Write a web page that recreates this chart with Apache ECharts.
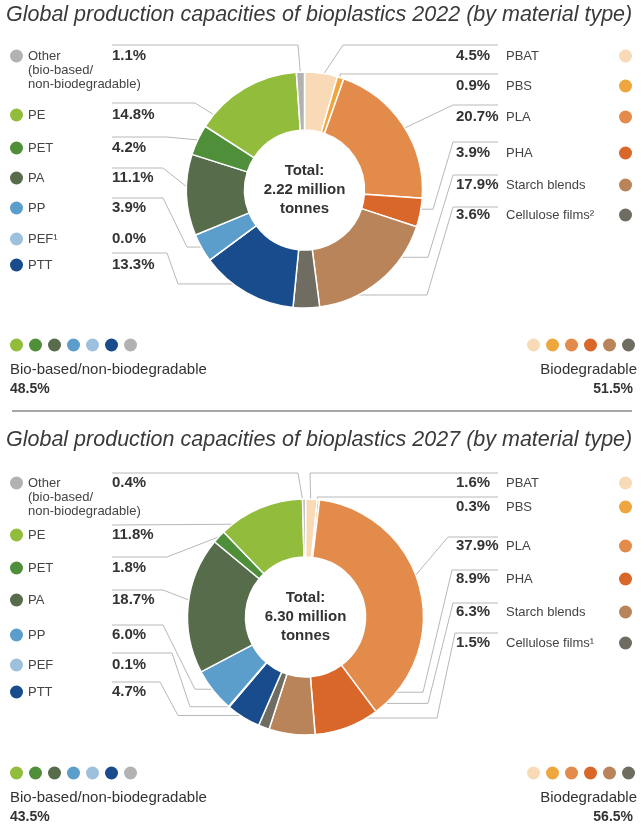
<!DOCTYPE html>
<html><head><meta charset="utf-8">
<script src="https://cdn.jsdelivr.net/npm/echarts@6/dist/echarts.min.js"></script>
<style>html,body{margin:0;padding:0;background:#fff}#c{width:644px;height:825px}</style>
</head><body><div id="c"></div>
<script>
// ---------- data ----------
const materials = ['PBAT','PBS','PLA','PHA','Starch blends','Cellulose films','PTT','PEF','PP','PA','PET','PE','Other'];
const labels2022 = ['PBAT','PBS','PLA','PHA','Starch blends','Cellulose films²','PTT','PEF¹','PP','PA','PET','PE','Other'];
const labels2027 = ['PBAT','PBS','PLA','PHA','Starch blends','Cellulose films¹','PTT','PEF','PP','PA','PET','PE','Other'];
const values2022 = [4.5,0.9,20.7,3.9,17.9,3.6,13.3,0.0,3.9,11.1,4.2,14.8,1.1];
const values2027 = [1.6,0.3,37.9,8.9,6.3,1.5,4.7,0.1,6.0,18.7,1.8,11.8,0.4];
const years = ['2022','2027'];
const totals = ['2.22','6.30'];
const bioBasedShare = ['48.5%','43.5%'];
const biodegradableShare = ['51.5%','56.5%'];
const bioBasedGroup = ['PE','PET','PA','PP','PEF','PTT','Other'];
const biodegradableGroup = ['PBAT','PBS','PLA','PHA','Starch blends','Cellulose films'];
const colorMap = {
  'PBAT':'#f8dab6','PBS':'#eea63f','PLA':'#e28b4b','PHA':'#d9672a','Starch blends':'#b9845a',
  'Cellulose films':'#6f6c62','PTT':'#184c8c','PEF':'#9dc0dd','PP':'#5b9dcb','PA':'#566c4b',
  'PET':'#4f8f3a','PE':'#92bc3c','Other':'#b2b2b2'
};

// ---------- layout (positions only) ----------
const layouts = [
  { cx: 304.5, cy: 190, titleY: 4, legY: 345, sepY: 411, rows: {
    'PBAT': {ty:56, ly:45, ex:343, r:112},
    'PBS': {ty:86, ly:74, ex:340, r:117},
    'PLA': {ty:117, ly:105, ex:453, r:95},
    'PHA': {ty:153, ly:142, ex:453, kx:433, r:100},
    'Starch blends': {ty:185, ly:175, ex:453, kx:428, f:0.33, r:106},
    'Cellulose films': {ty:215, ly:207, ex:453, kx:427, r:105},
    'PTT': {ty:265, ly:253, ex:167, kx:178, r:108},
    'PEF': {ty:239, noLine:true},
    'PP': {ty:208, ly:198, ex:163, kx:187, r:116},
    'PA': {ty:178, ly:168, ex:163, r:108},
    'PET': {ty:148, ly:137, ex:167, r:118},
    'PE': {ty:115, ly:103, ex:195, f:0.15, r:105},
    'Other': {ty:56, ly:45, ex:298, r:115}
  }},
  { cx: 305.5, cy: 617, titleY: 429, legY: 773, sepY: null, rows: {
    'PBAT': {ty:483, ly:473, ex:310, r:108},
    'PBS': {ty:507, ly:497, ex:317, r:117},
    'PLA': {ty:546, ly:537, ex:448, r:100},
    'PHA': {ty:579, ly:570, ex:452, kx:423, f:0.28, r:85},
    'Starch blends': {ty:612, ly:603, ex:453, kx:428, r:87},
    'Cellulose films': {ty:643, ly:633, ex:455, kx:437, r:108},
    'PTT': {ty:692, ly:682, ex:160, kx:178, r:116},
    'PEF': {ty:665, ly:653, ex:172, kx:190, r:118},
    'PP': {ty:635, ly:625, ex:163, kx:195, r:116},
    'PA': {ty:600, ly:590, ex:163, r:100},
    'PET': {ty:568, ly:557, ex:167, r:118},
    'PE': {ty:535, ly:525, f:0.29, r:109},
    'Other': {ty:483, ly:473, ex:298, r:108}
  }}
];
const chartValues = [values2022, values2027];
const chartLabels = [labels2022, labels2027];
const FONT = 'Liberation Sans, Arial, Helvetica, sans-serif';
const TXT = '#333333';
const LINE = '#b8b8b8';

function endPoint(ci, idx, f, r) {
  const vals = chartValues[ci];
  const sum = vals.reduce((a, b) => a + b, 0);
  let cum = 0;
  for (let j = 0; j < idx; j++) cum += vals[j];
  const th = (cum + f * vals[idx]) / sum * 2 * Math.PI;
  const L = layouts[ci];
  return [L.cx + r * Math.sin(th), L.cy - r * Math.cos(th)];
}

const rich = {
  sp: {width: 5},
  sp2: {width: 18},
  nm: {width: 84, fontSize: 13, color: '#444', fontFamily: FONT, lineHeight: 16},
  nmr: {width: 113, fontSize: 13, color: '#444', fontFamily: FONT, lineHeight: 16},
  sub: {fontSize: 13, color: '#444', fontFamily: FONT, lineHeight: 13.5},
  pct: {width: 50, fontSize: 15, fontWeight: 'bold', color: TXT, fontFamily: FONT, lineHeight: 16}
};
materials.forEach((m, i) => {
  rich['d' + i] = {width: 13, height: 13, borderRadius: 6.5, backgroundColor: colorMap[m]};
});

function makeSeries(ci) {
  const L = layouts[ci];
  const vals = chartValues[ci];
  const names = chartLabels[ci];
  return {
    type: 'pie',
    center: [L.cx, L.cy],
    radius: [60, 118],
    startAngle: 90,
    clockwise: true,
    avoidLabelOverlap: false,
    animation: false,
    silent: true,
    itemStyle: {borderColor: '#ffffff', borderWidth: 1.5},
    label: {
      show: true,
      position: 'outside',
      width: 260,
      overflow: 'none',
      rich: rich,
      formatter: (p) => {
        const i = p.dataIndex;
        const pct = vals[i].toFixed(1) + '%';
        if (i < 6) return '{pct|' + pct + '}{nmr|' + names[i] + '}{d' + i + '|}';
        if (materials[i] === 'Other') {
          return '{d' + i + '|}{sp|}{nm|Other}{pct|' + pct + '}\n{sp2|}{sub|(bio-based/}\n{sp2|}{sub|non-biodegradable)}';
        }
        return '{d' + i + '|}{sp|}{nm|' + names[i] + '}{pct|' + pct + '}';
      }
    },
    labelLine: {show: true, lineStyle: {color: LINE, width: 1}},
    labelLayout: (p) => {
      const i = p.dataIndex;
      const row = L.rows[materials[i]];
      const right = i < 6;
      const res = {x: right ? 456 : 10, y: row.ty - 8, align: 'left', verticalAlign: 'top'};
      if (!row.noLine) {
        const pts = [endPoint(ci, i, row.f != null ? row.f : 0.5, row.r)];
        if (row.kx != null) pts.push([row.kx, pts[0][1]]);
        if (row.ex != null) pts.push([row.ex, row.ly]);
        pts.push([right ? 498 : 112, row.ly]);
        res.labelLinePoints = pts;
      }
      return res;
    },
    data: materials.map((m, i) => {
      const d = {name: m, value: vals[i], itemStyle: {color: colorMap[m]}};
      if (layouts[ci].rows[m].noLine) d.labelLine = {show: false};
      return d;
    })
  };
}

const graphics = [];
layouts.forEach((L, ci) => {
  graphics.push({type: 'text', style: {text: 'Total:\n' + totals[ci] + ' million\ntonnes', x: L.cx, y: L.cy,
    textAlign: 'center', textVerticalAlign: 'middle', font: 'bold 15px ' + FONT, lineHeight: 19, fill: TXT}});
  bioBasedGroup.forEach((m, k) => {
    graphics.push({type: 'circle', shape: {cx: 16.5 + k * 19, cy: L.legY, r: 6.5}, style: {fill: colorMap[m]}});
  });
  biodegradableGroup.forEach((m, k) => {
    graphics.push({type: 'circle', shape: {cx: 533.5 + k * 19, cy: L.legY, r: 6.5}, style: {fill: colorMap[m]}});
  });
  graphics.push({type: 'text', style: {text: 'Bio-based/non-biodegradable', x: 10, y: L.legY + 25,
    textVerticalAlign: 'middle', font: '15px ' + FONT, fill: TXT}});
  graphics.push({type: 'text', style: {text: bioBasedShare[ci], x: 10, y: L.legY + 44,
    textVerticalAlign: 'middle', font: 'bold 14px ' + FONT, fill: TXT}});
  graphics.push({type: 'text', style: {text: 'Biodegradable', x: 637, y: L.legY + 25,
    textAlign: 'right', textVerticalAlign: 'middle', font: '15px ' + FONT, fill: TXT}});
  graphics.push({type: 'text', style: {text: biodegradableShare[ci], x: 633, y: L.legY + 44,
    textAlign: 'right', textVerticalAlign: 'middle', font: 'bold 14px ' + FONT, fill: TXT}});
  if (L.sepY != null) {
    graphics.push({type: 'line', shape: {x1: 12, y1: L.sepY, x2: 632, y2: L.sepY}, style: {stroke: '#8a8a8a', lineWidth: 1.5}});
  }
});

const chart = echarts.init(document.getElementById('c'), null, {renderer: 'canvas'});
chart.setOption({
  backgroundColor: '#ffffff',
  animation: false,
  title: layouts.map((L, ci) => ({
    text: 'Global production capacities of bioplastics ' + years[ci] + ' (by material type)',
    left: 6, top: L.titleY, padding: 0,
    textStyle: {fontFamily: FONT, fontStyle: 'italic', fontWeight: 'normal', fontSize: 21.5, color: '#3a3a3a'}
  })),
  series: [makeSeries(0), makeSeries(1)],
  graphic: graphics
});
</script></body></html>
